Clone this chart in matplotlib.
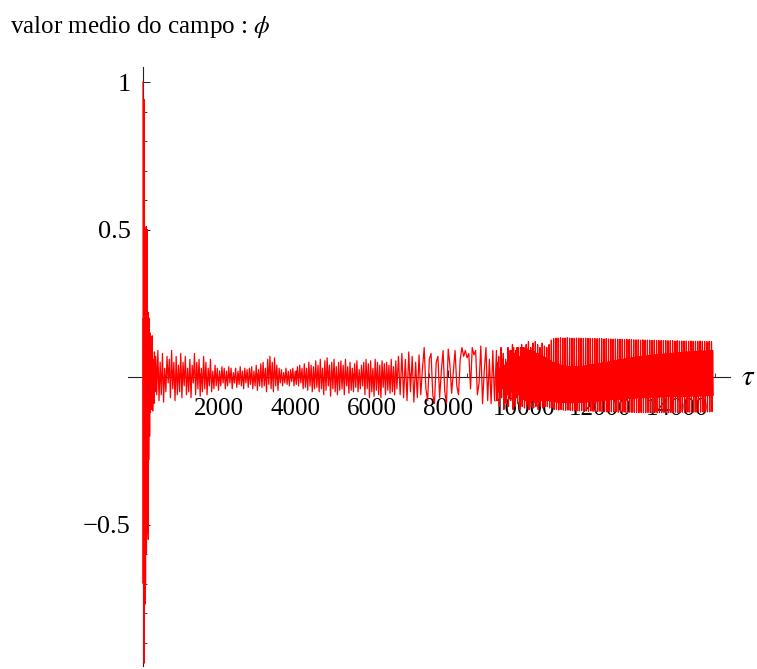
import numpy as np
import matplotlib
matplotlib.use("Agg")
import matplotlib.pyplot as plt
from matplotlib.ticker import FixedLocator, MultipleLocator

plt.rcParams['font.family'] = ['Liberation Serif', 'DejaVu Serif']
plt.rcParams['mathtext.fontset'] = 'stix'
plt.rcParams['axes.unicode_minus'] = True

# ---------------- data ----------------
# initial transient
tau_start = [0, 6, 12, 18, 24, 30, 36, 42, 48, 54, 60, 66, 72, 78, 84, 90, 96,
             102, 108, 114, 120, 126, 132, 138, 144, 150, 156, 162, 168, 174,
             180, 195, 210, 225, 240, 255, 270, 285, 300, 315, 330, 345, 360]
phi_start = [1.0, -0.7, 0.2, -0.77, 0.24, -0.97, 0.94, -0.6, 0.5, -0.77, 0.24,
             -0.7, 0.2, -0.5, 0.51, -0.6, 0.22, -0.53, 0.5, -0.45, 0.2, -0.3,
             0.22, -0.55, 0.15, -0.28, 0.2, -0.12, 0.1, -0.2, 0.15, -0.12, 0.1,
             -0.11, 0.14, -0.115, 0.06, -0.09, 0.085, -0.05, 0.07, 0.03, -0.06]

# irregular oscillation, tau 390 .. 6660 (one extremum every 30)
mid_tau0, mid_dtau = 390, 30
phi_mid = [
    0.09, -0.08, 0.05, -0.06, 0.08, -0.085, 0.03, -0.05, 0.07, -0.02, 0.06, -0.07, 0.09, -0.04, 0.05, -0.08, 0.07, -0.06, 0.04, -0.05,
    0.08, -0.07, 0.05, -0.03, 0.07, -0.06, 0.03, -0.05, 0.06, -0.07, 0.04, -0.02, 0.08, -0.06, 0.05, -0.04, 0.06, -0.065, 0.03, -0.05,
    0.07, -0.04, 0.05, -0.06, 0.03, -0.03, 0.06, -0.05, 0.02, -0.04, 0.04, -0.03, 0.03, -0.045, 0.02, -0.03, 0.035, -0.02, 0.03, -0.04,
    0.02, -0.03, 0.035, -0.02, 0.03, -0.04, 0.015, -0.02, 0.03, -0.035, 0.02, -0.025, 0.035, -0.03, 0.02, -0.04, 0.03, -0.02, 0.025, -0.035,
    0.03, -0.025, 0.035, -0.04, 0.02, -0.03, 0.04, -0.045, 0.025, -0.03, 0.045, -0.035, 0.05, -0.03, 0.03, -0.05, 0.06, -0.025, 0.07, -0.04,
    0.05, -0.05, 0.065, -0.03, 0.04, -0.045, 0.03, -0.02, 0.025, -0.03, 0.015, -0.02, 0.03, -0.025, 0.02, -0.03, 0.025, -0.015, 0.03, -0.03,
    0.02, -0.025, 0.035, -0.03, 0.04, -0.02, 0.03, -0.04, 0.045, -0.035, 0.03, -0.045, 0.05, -0.03, 0.04, -0.05, 0.035, -0.04, 0.055, -0.035,
    0.04, -0.05, 0.06, -0.04, 0.03, -0.06, 0.055, -0.045, 0.065, -0.03, 0.04, -0.065, 0.05, -0.04, 0.06, -0.05, 0.035, -0.06, 0.05, -0.045,
    0.055, -0.04, 0.04, -0.06, 0.06, -0.03, 0.035, -0.055, 0.05, -0.045, 0.03, -0.05, 0.045, -0.035, 0.055, -0.05, 0.025, -0.04, 0.04, -0.03,
    0.05, -0.06, 0.06, -0.04, 0.045, -0.07, 0.055, -0.05, 0.03, -0.065, 0.06, -0.045, 0.05, -0.06, 0.04, -0.07, 0.055, -0.035, 0.045, -0.06,
    0.05, -0.045, 0.04, -0.055, 0.06, -0.05, 0.035, -0.06, 0.055, -0.04,
]

# slower oscillation, tau 6700 .. 9220 (one point every 45)
slow_tau0, slow_dtau = 6700, 45
phi_slow = [0.07, -0.06, 0.08, -0.07, 0.06, -0.08, 0.085, -0.05, 0.07, -0.085,
            0.05, -0.07, 0.075, -0.06, 0.03, 0.1, -0.04, -0.08, 0.06, 0.08,
            -0.06, -0.09, 0.05, 0.07, -0.07, 0.02, 0.09, -0.05, -0.09, 0.095,
            0.04, -0.055, 0.02, 0.09, -0.03, -0.06, 0.06, 0.1, 0.07, 0.09,
            0.065, 0.08, -0.04, 0.1, 0.075, 0.09, -0.06, -0.02, 0.105, -0.09,
            0.02, 0.1, -0.08, 0.06, -0.09, 0.09, -0.08]

# dense regime, tau 9270 .. 15000: per cycle (60 in tau) a tall top,
# tall bottom, and the top / bottom of the solid core
late_tau0, late_cycle = 9270, 60
late_upper = [0.09, 0.07, 0.1, 0.08, 0.06, 0.1, 0.09, 0.11, 0.08, 0.1, 0.07, 0.11, 0.1,
              0.11, 0.12, 0.1, 0.115, 0.12, 0.11, 0.1, 0.115, 0.105, 0.1, 0.11,
              0.125, 0.13, 0.132, 0.132, 0.133, 0.132, 0.132, 0.133, 0.132, 0.132, 0.131, 0.132, 0.132, 0.131, 0.131, 0.132, 0.131,
              0.131, 0.13, 0.131, 0.13, 0.13, 0.13, 0.129, 0.13, 0.129, 0.129, 0.128, 0.129, 0.128, 0.128, 0.128, 0.127, 0.128, 0.127, 0.127, 0.126,
              0.126, 0.126, 0.125, 0.126, 0.125, 0.125, 0.125, 0.124, 0.125, 0.124, 0.124, 0.124, 0.123, 0.124, 0.123, 0.123, 0.123, 0.122, 0.123, 0.122,
              0.122, 0.122, 0.122, 0.121, 0.122, 0.121, 0.121, 0.121, 0.122, 0.121, 0.121, 0.12, 0.121, 0.12]
late_lower = [-0.08, -0.1, -0.07, -0.11, -0.09, -0.1, -0.08, -0.11, -0.1, -0.09, -0.11, -0.1, -0.105,
              -0.1, -0.11, -0.1, -0.105, -0.1, -0.11, -0.1, -0.105, -0.1, -0.1, -0.105,
              -0.105, -0.11, -0.11, -0.112, -0.11, -0.112, -0.113, -0.112, -0.113, -0.114, -0.113, -0.114, -0.115, -0.114, -0.115, -0.115, -0.116,
              -0.115, -0.116, -0.116, -0.117, -0.116, -0.117, -0.117, -0.118, -0.117, -0.118, -0.118, -0.118, -0.119, -0.118, -0.119, -0.119, -0.12, -0.119, -0.12, -0.12,
              -0.12, -0.121, -0.12, -0.121, -0.121, -0.12, -0.121, -0.121, -0.12, -0.121, -0.12, -0.121, -0.12, -0.12, -0.121, -0.12, -0.12, -0.119, -0.12, -0.12,
              -0.119, -0.12, -0.119, -0.119, -0.12, -0.119, -0.119, -0.118, -0.119, -0.118, -0.119, -0.118, -0.118, -0.117]
core_upper = [0.05, 0.03, 0.06, 0.04, 0.05, 0.07, 0.09, 0.1, 0.09, 0.1, 0.1, 0.1, 0.095,
              0.095, 0.09, 0.09, 0.085, 0.08, 0.08, 0.075, 0.07, 0.065, 0.06, 0.055,
              0.05, 0.048, 0.045, 0.043, 0.04, 0.038, 0.036, 0.035, 0.035, 0.034, 0.035, 0.035, 0.036, 0.036, 0.037, 0.038, 0.04,
              0.041, 0.042, 0.043, 0.045, 0.046, 0.048, 0.049, 0.05, 0.052, 0.053, 0.055, 0.056, 0.058, 0.059, 0.06, 0.062, 0.063, 0.064, 0.066, 0.067,
              0.068, 0.069, 0.07, 0.071, 0.071, 0.072, 0.073, 0.074, 0.075, 0.076, 0.077, 0.077, 0.078, 0.079, 0.08, 0.08, 0.081, 0.082, 0.082, 0.083,
              0.084, 0.084, 0.085, 0.085, 0.086, 0.086, 0.087, 0.087, 0.088, 0.088, 0.088, 0.089, 0.089, 0.09]
core_lower = [-0.05, -0.07, -0.04, -0.08, -0.06, -0.07, -0.05, -0.08, -0.07, -0.06, -0.08, -0.075, -0.08,
              -0.08, -0.085, -0.08, -0.085, -0.08, -0.085, -0.08, -0.085, -0.08, -0.08, -0.082,
              -0.082, -0.084, -0.085, -0.085, -0.086, -0.086, -0.087, -0.087, -0.087, -0.087, -0.086, -0.086, -0.085, -0.085, -0.084, -0.084, -0.083,
              -0.082, -0.082, -0.081, -0.08, -0.08, -0.079, -0.078, -0.078, -0.077, -0.076, -0.076, -0.075, -0.075, -0.074, -0.073, -0.073, -0.072, -0.072, -0.071, -0.071,
              -0.07, -0.07, -0.07, -0.069, -0.069, -0.069, -0.068, -0.068, -0.068, -0.068, -0.067, -0.067, -0.067, -0.067, -0.066, -0.066, -0.066, -0.066, -0.066, -0.065,
              -0.065, -0.065, -0.065, -0.065, -0.064, -0.064, -0.064, -0.064, -0.064, -0.063, -0.063, -0.063, -0.063, -0.062]

x_major_ticks = [2000, 4000, 6000, 8000, 10000, 12000, 14000]
x_tick_labels = ["2000", "4000", "6000", "8000", "10000", "12000", "14000"]
y_major_ticks = [-0.5, 0.5, 1.0]
y_tick_labels = ["\u22120.5", "0.5", "1"]

# ---------------- assemble series ----------------
tau_mid = mid_tau0 + mid_dtau * np.arange(len(phi_mid))
tau_slow = slow_tau0 + slow_dtau * np.arange(len(phi_slow))
n_late = min(len(late_upper), len(late_lower), len(core_upper), len(core_lower))
cyc = late_tau0 + late_cycle * np.arange(n_late)
offsets = np.array([0, 0.25, 0.5, 0.75]) * late_cycle
tau_late = (cyc[:, None] + offsets[None, :]).ravel()
phi_late = np.column_stack([late_upper[:n_late], late_lower[:n_late],
                            core_upper[:n_late], core_lower[:n_late]]).ravel()

tau = np.concatenate([tau_start, tau_mid, tau_slow, tau_late])
phi = np.concatenate([phi_start, phi_mid, phi_slow, phi_late])

# ---------------- figure ----------------
W, H = 757, 669
fig = plt.figure(figsize=(W / 100, H / 100), dpi=100)
ax = fig.add_axes([0.16875, 0.0043, 0.7953, 0.8951])
ax.set_xlim(-400, 15390)
ax.set_ylim(-0.98, 1.05)

ax.plot(tau, phi, color='#ff0000', lw=0.9, zorder=3, clip_on=False)

for s in ('top', 'right'):
    ax.spines[s].set_visible(False)
ax.spines['left'].set_position(('data', 0))
ax.spines['bottom'].set_position(('data', 0))
for s in ('left', 'bottom'):
    ax.spines[s].set_linewidth(0.8)
    ax.spines[s].set_color('#222222')
ax.set_axisbelow(True)

ax.xaxis.set_major_locator(FixedLocator(x_major_ticks))
ax.set_xticklabels(x_tick_labels)
ax.xaxis.set_minor_locator(MultipleLocator(500))
ax.yaxis.set_major_locator(FixedLocator(y_major_ticks))
ax.set_yticklabels(y_tick_labels)
ax.yaxis.set_minor_locator(MultipleLocator(0.1))

ax.tick_params(axis='x', which='major', direction='in', length=5, width=0.7,
               labelsize=18, pad=15, color='#222222')
ax.tick_params(axis='x', which='minor', direction='in', length=3, width=0.6,
               color='#222222')
ax.tick_params(axis='y', which='major', direction='in', length=5, width=0.7,
               labelsize=19, pad=9, color='#222222')
ax.tick_params(axis='y', which='minor', direction='in', length=3, width=0.6,
               color='#222222')

fig.text(10 / W, 1 - 33 / H, r"valor medio do campo : $\phi$", fontsize=18,
         ha='left', va='baseline')
fig.text(748 / W, 1 - 378 / H, r"$\tau$", fontsize=21, ha='center', va='center')

fig.savefig("out.png", dpi=100)
